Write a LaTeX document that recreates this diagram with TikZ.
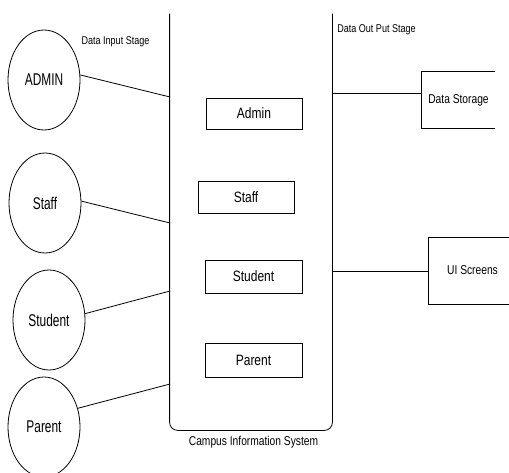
\documentclass[tikz,border=0pt]{standalone}
\usepackage{fontspec}
\setmainfont{Liberation Sans}[FakeStretch=0.8]
\newfontfamily\narrowsans{Liberation Sans}[FakeStretch=0.7]
\usetikzlibrary{shapes.geometric}
\begin{document}
\begin{tikzpicture}[x=1pt,y=-1pt,line width=0.8pt,
  actor/.style={ellipse,draw,minimum width=72pt,minimum height=100pt,inner sep=0pt,font=\narrowsans\fontsize{17}{20}\selectfont},
  module/.style={rectangle,draw,inner sep=0pt,font=\fontsize{15}{18}\selectfont},
  small/.style={font=\fontsize{11.3}{13}\selectfont,inner sep=0pt},
  mid/.style={font=\fontsize{12.8}{15}\selectfont,inner sep=0pt}]
\useasboundingbox (0,0) rectangle (509,472);
\clip (0,0) rectangle (509,472);

% actors
\node[actor] (admin) at (44,80) {ADMIN};
\node[actor] (staffA) at (45,203) {Staff};
\node[actor] (studentA) at (49,320) {Student};
\node[actor] (parentA) at (44,427) {Parent};

% container
\node[minimum width=162pt,minimum height=416pt,inner sep=0pt] (cis) at (251,222) {};
\draw[rounded corners=8pt] (cis.north west) -- (cis.south west) -- (cis.south east) -- (cis.north east);

% modules
\node[module,minimum width=96pt,minimum height=31pt] (madmin) at (254,113.5) {Admin};
\node[module,minimum width=96pt,minimum height=32pt] (mstaff) at (246,197) {Staff};
\node[module,minimum width=97pt,minimum height=33pt] (mstudent) at (253.5,276.5) {Student};
\node[module,minimum width=97pt,minimum height=34pt] (mparent) at (253.5,360) {Parent};

% input connectors
\coordinate (i1) at (170,97);
\coordinate (i2) at (170,223);
\coordinate (i3) at (170,291);
\coordinate (i4) at (170,384);
\draw (admin.8) -- (i1);
\draw (staffA.3) -- (i2);
\draw (studentA.10) -- (i3);
\draw (parentA.29) -- (i4);

% outputs
\node[mid,minimum width=73pt,minimum height=56pt] (ds) at (458.5,100) {Data Storage};
\draw (ds.north east) -- (ds.north west) -- (ds.south west) -- (ds.south east);
\node[module,mid,minimum width=89pt,minimum height=67pt] (ui) at (472.5,270.5) {UI Screens};
\coordinate (o1) at (332,93);
\coordinate (o2) at (332,271);
\draw (o1) -- (o1 -| ds.west);
\draw (o2) -- (o2 -| ui.west);

% labels
\node[small] (lin) at (115.5,42) {Data Input Stage};
\node[small] (lout) at (376.5,30) {Data Out Put Stage};
\node[mid] (lcis) at (253.5,442) {Campus Information System};
\end{tikzpicture}
\end{document}
